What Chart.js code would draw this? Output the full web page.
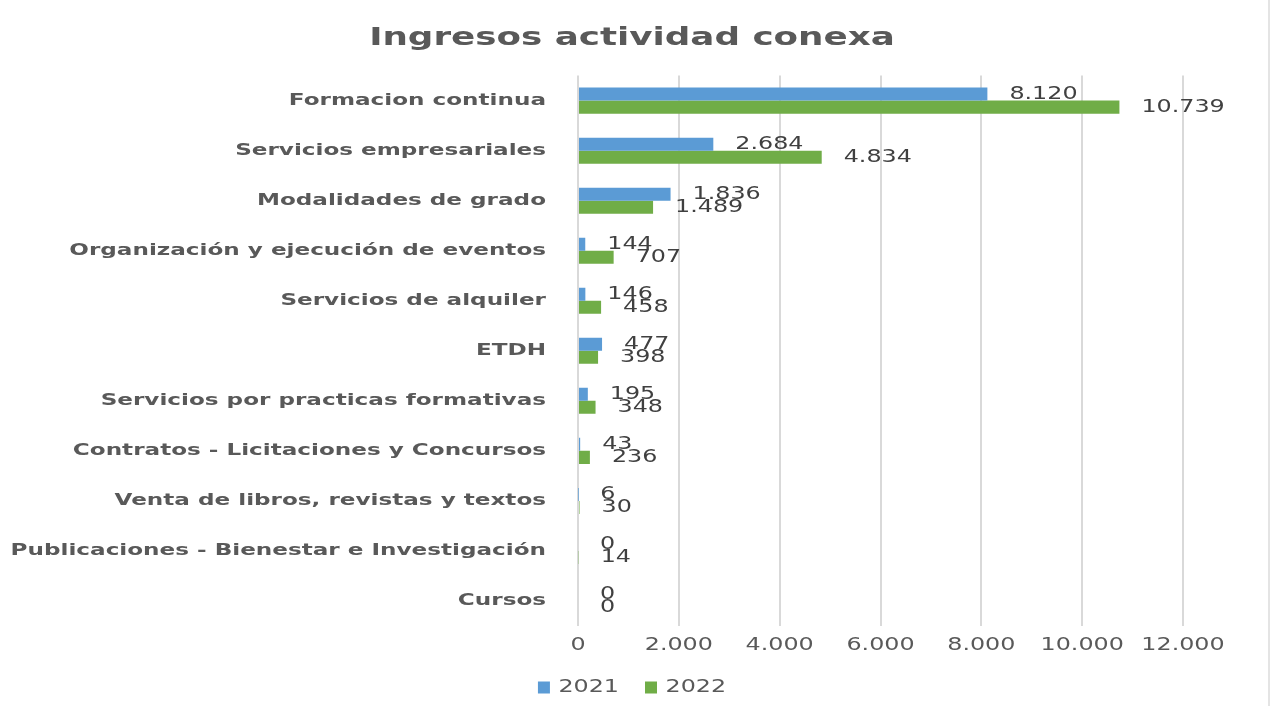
<!DOCTYPE html>
<html>
<head>
    <title>Ingresos actividad conexa</title>
    <meta charset="UTF-8">
    <script src="https://cdn.jsdelivr.net/npm/chart.js"></script>
    <style>
        body { margin: 0; background: #fff; }
        #wrap { width: 1274px; height: 706px; position: relative; }
        #edge { position: absolute; left: 1268px; top: 0; width: 2px; height: 706px; background: #e4e4e4; }
    </style>
</head>
<body>
<div id="wrap"><canvas id="bar_chart"></canvas><div id="edge"></div></div>
<script>
    // categorias y valores
    var categories = [
        'Formacion continua',
        'Servicios empresariales',
        'Modalidades de grado',
        'Organización y ejecución de eventos',
        'Servicios de alquiler',
        'ETDH',
        'Servicios por practicas formativas',
        'Contratos - Licitaciones y Concursos',
        'Venta de libros, revistas y textos',
        'Publicaciones - Bienestar e Investigación',
        'Cursos'
    ];
    var values2021 = [8120, 2684, 1836, 144, 146, 477, 195, 43, 6, 0, 0];
    var values2022 = [10739, 4834, 1489, 707, 458, 398, 348, 236, 30, 14, 0];
    var seriesNames = ['2021', '2022'];

    var textColor = '#595959';
    var gridColor = '#d9d9d9';
    var stretchX = 1.4; // el texto del original esta ensanchado

    // separador de miles con punto
    function fmt(v) {
        return String(Math.round(v)).replace(/\B(?=(\d{3})+(?!\d))/g, '.');
    }

    var ctx = document.getElementById('bar_chart').getContext('2d');

    // texto ensanchado horizontalmente, como en la captura
    var rawFill = ctx.fillText.bind(ctx);
    var rawMeasure = ctx.measureText.bind(ctx);
    ctx.fillText = function(t, x, y) {
        ctx.save();
        ctx.translate(x, y);
        ctx.scale(stretchX, 1);
        rawFill(t, 0, 0);
        ctx.restore();
    };
    ctx.measureText = function(t) {
        var m = rawMeasure(t);
        return {
            width: m.width * stretchX,
            actualBoundingBoxAscent: m.actualBoundingBoxAscent,
            actualBoundingBoxDescent: m.actualBoundingBoxDescent,
            actualBoundingBoxLeft: m.actualBoundingBoxLeft * stretchX,
            actualBoundingBoxRight: m.actualBoundingBoxRight * stretchX,
            fontBoundingBoxAscent: m.fontBoundingBoxAscent,
            fontBoundingBoxDescent: m.fontBoundingBoxDescent
        };
    };

    // etiquetas de datos al final de cada barra
    var valueLabels = {
        id: 'valueLabels',
        afterDatasetsDraw: function(chart) {
            var c = chart.ctx;
            c.save();
            c.font = '17px "DejaVu Sans"';
            c.fillStyle = '#404040';
            c.textAlign = 'left';
            c.textBaseline = 'middle';
            chart.data.datasets.forEach(function(ds, i) {
                chart.getDatasetMeta(i).data.forEach(function(bar, j) {
                    c.fillText(fmt(ds.data[j]), bar.x + 22, bar.y);
                });
            });
            c.restore();
        }
    };

    var chart = new Chart(ctx, {
        type: 'bar',
        data: {
            labels: categories,
            datasets: [{
                label: seriesNames[0],
                data: values2021,
                backgroundColor: '#5B9BD5'
            }, {
                label: seriesNames[1],
                data: values2022,
                backgroundColor: '#70AD47'
            }]
        },
        options: {
            indexAxis: 'y',
            responsive: true,
            maintainAspectRatio: false,
            animation: false,
            layout: { padding: { left: 0, right: 10, top: 0, bottom: 0 } },
            datasets: {
                bar: { categoryPercentage: 0.52, barPercentage: 1.0 }
            },
            scales: {
                x: {
                    min: 0,
                    max: 12000,
                    grid: { color: gridColor, lineWidth: 2, drawTicks: false },
                    border: { display: false },
                    ticks: {
                        stepSize: 2000,
                        padding: 9,
                        color: textColor,
                        font: { family: 'DejaVu Sans', size: 17 },
                        callback: function(v) { return fmt(v); }
                    },
                    afterFit: function(s) { s.height = 27; }
                },
                y: {
                    grid: { display: false },
                    border: { display: false },
                    ticks: {
                        padding: 24,
                        color: textColor,
                        font: { family: 'DejaVu Sans', size: 16.5, weight: 'bold' }
                    },
                    afterFit: function(s) { s.width = 578; }
                },
                // eje vacio para dejar el margen derecho
                yRight: {
                    type: 'category',
                    position: 'right',
                    grid: { display: false },
                    border: { display: false },
                    ticks: { display: false },
                    afterFit: function(s) { s.width = 81; }
                }
            },
            plugins: {
                title: {
                    display: true,
                    text: 'Ingresos actividad conexa',
                    color: textColor,
                    font: { family: 'DejaVu Sans', size: 25.5, weight: 'bold' },
                    padding: { top: 23, bottom: 22 }
                },
                legend: {
                    position: 'bottom',
                    labels: {
                        boxWidth: 12,
                        boxHeight: 12,
                        padding: 26,
                        color: textColor,
                        font: { family: 'DejaVu Sans', size: 17 }
                    }
                },
                tooltip: { enabled: false }
            }
        },
        plugins: [valueLabels]
    });
</script>
</body>
</html>
